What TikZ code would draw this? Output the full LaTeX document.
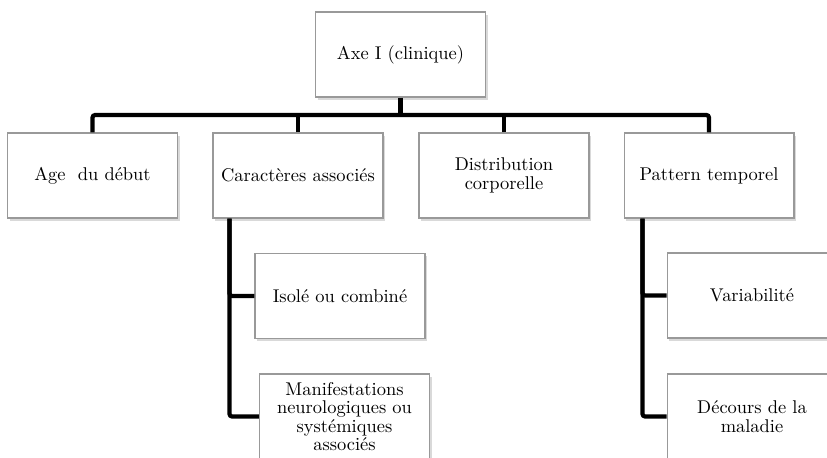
\documentclass[tikz,border=0pt]{standalone}
\usepackage{tikz}
\usetikzlibrary{shadows}

\tikzset{
  boite/.style={draw=gray!80, line width=0.6pt, fill=white, minimum width=3.4cm,
    minimum height=1.7cm, align=center, font=\fontsize{10.5}{10.5}\selectfont,
    drop shadow={opacity=0.3, shadow xshift=1.2pt, shadow yshift=-1.6pt}},
  lien/.style={line width=2.4pt, rounded corners=1.5pt}
}

\begin{document}
\begin{tikzpicture}[x=0.02cm, y=-0.02cm]
\useasboundingbox (0,0) rectangle (827,457);
\clip (0,0) rectangle (827,457);
\coordinate (barre) at (93,115);
\node[boite] (axe) at (400.5,54.5) {Axe I (clinique)};
\node[boite] (age) at (92.5,175.5) {Age\ \ du début};
\node[boite] (car) at (298,175.5) {Caractères associés};
\node[boite] (dist) at (504,175.5) {Distribution\\corporelle};
\node[boite] (patt) at (709,175.5) {Pattern temporel};
\node[boite] (iso) at (340,296) {Isolé ou combiné};
\node[boite] (man) at (344.5,416.5) {Manifestations\\neurologiques ou\\systémiques\\associés};
\node[boite] (var) at (752,295.5) {Variabilité};
\node[boite] (dec) at (752,416.5) {Décours de la\\maladie};
\draw[lien] (axe.south) -- (axe.south |- barre);
\draw[lien] (age.north) |- (patt.north |- barre) -- (patt.north);
\draw[lien] (car.north) -- (car.north |- barre);
\draw[lien] (dist.north) -- (dist.north |- barre);
\draw[lien] ([xshift=0.34cm]car.south west) |- (iso.west);
\draw[lien] ([xshift=0.34cm]car.south west) |- (man.west);
\draw[lien] ([xshift=0.38cm]patt.south west) |- (var.west);
\draw[lien] ([xshift=0.38cm]patt.south west) |- (dec.west);
\end{tikzpicture}
\end{document}
